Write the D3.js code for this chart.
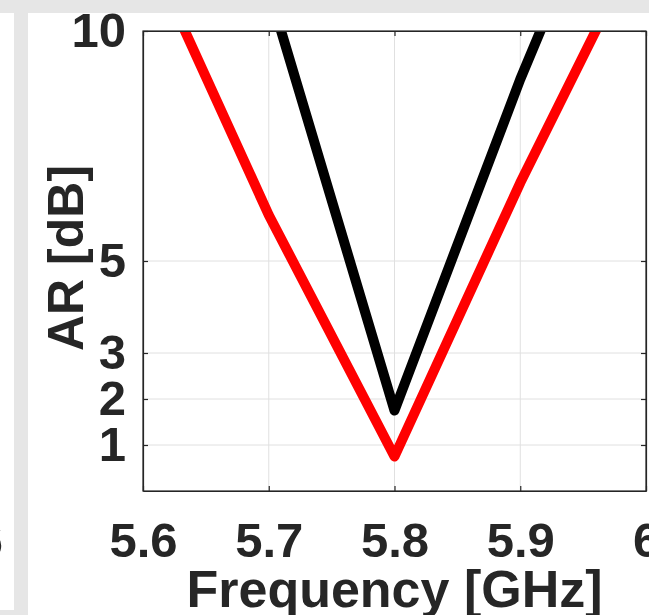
<!DOCTYPE html>
<html>
<head>
<meta charset="utf-8">
<script src="https://cdn.jsdelivr.net/npm/d3@7"></script>
<style>
  body { margin: 0; padding: 0; background: #e6e6e6; overflow: hidden; }
  svg { display: block; }
  .tick-label { font-family: "Liberation Sans", Arial, sans-serif; font-weight: bold; fill: #262626; }
</style>
</head>
<body>
<div id="chart"></div>
<script>
// AR vs frequency plot
(function () {
  ///////////////////////////////////////////////////////////// ! Data
  const freqRed = [5.6, 5.65, 5.7, 5.8, 5.9, 6.0];
  const arRed = [12.0, 9.0, 6.0, 0.75, 6.7, 12.2];

  const freqBlack = [5.7, 5.8, 5.9, 6.0];
  const arBlack = [10.9, 1.75, 8.95, 15.5];

  const xTicks = [5.6, 5.7, 5.8, 5.9, 6];
  const yTicks = [1, 2, 3, 5, 10];

  ///////////////////////////////////////////////////////////// ! Setup
  const fullWidth = 649;
  const fullHeight = 615;
  const plot = { left: 143, right: 646, top: 31, bottom: 491 };
  const textColor = "#262626";
  const fontFamily = '"Liberation Sans", Arial, sans-serif';

  const svg = d3
    .select("#chart")
    .append("svg")
    .attr("width", fullWidth)
    .attr("height", fullHeight);

  // Gray frame and white panels (left one is the neighbouring subplot)
  svg.append("rect").attr("width", fullWidth).attr("height", fullHeight).attr("fill", "#e6e6e6");
  svg.append("rect").attr("x", 0).attr("y", 13).attr("width", 14).attr("height", 597).attr("fill", "#ffffff");
  svg.append("rect").attr("x", 28).attr("y", 13).attr("width", fullWidth - 28).attr("height", fullHeight - 13).attr("fill", "#ffffff");

  // Leftover tick label of the neighbour panel, clipped at its edge
  svg.append("clipPath").attr("id", "leftPanel")
    .append("rect").attr("x", 0).attr("y", 13).attr("width", 14).attr("height", 597);
  svg.append("text")
    .attr("clip-path", "url(#leftPanel)")
    .attr("x", 3)
    .attr("y", 557)
    .attr("text-anchor", "end")
    .attr("font-family", fontFamily)
    .attr("font-weight", "bold")
    .attr("font-size", 49)
    .attr("fill", textColor)
    .text("6");

  ///////////////////////////////////////////////////////////// ! Scales
  const xScale = d3.scaleLinear().domain([5.6, 6]).range([plot.left, plot.right]);
  const yScale = d3.scaleLinear().domain([0, 10]).range([plot.bottom, plot.top]);

  ///////////////////////////////////////////////////////////// ! Grid
  const grid = svg.append("g").attr("stroke", "#e0e0e0").attr("stroke-width", 1);
  grid.selectAll(".gx")
    .data(xTicks.slice(1, -1))
    .enter()
    .append("line")
    .attr("x1", (d) => xScale(d))
    .attr("x2", (d) => xScale(d))
    .attr("y1", plot.top)
    .attr("y2", plot.bottom);
  grid.selectAll(".gy")
    .data(yTicks.slice(0, -1))
    .enter()
    .append("line")
    .attr("x1", plot.left)
    .attr("x2", plot.right)
    .attr("y1", (d) => yScale(d))
    .attr("y2", (d) => yScale(d));

  ///////////////////////////////////////////////////////////// ! Lines
  svg.append("clipPath").attr("id", "plotArea")
    .append("rect")
    .attr("x", plot.left)
    .attr("y", plot.top)
    .attr("width", plot.right - plot.left)
    .attr("height", plot.bottom - plot.top);

  const line = d3.line().x((d) => xScale(d[0])).y((d) => yScale(d[1]));

  const series = [
    { color: "#ff0000", pts: d3.zip(freqRed, arRed) },
    { color: "#000000", pts: d3.zip(freqBlack, arBlack) },
  ];

  svg.append("g")
    .attr("clip-path", "url(#plotArea)")
    .selectAll("path")
    .data(series)
    .enter()
    .append("path")
    .attr("d", (d) => line(d.pts))
    .attr("fill", "none")
    .attr("stroke", (d) => d.color)
    .attr("stroke-width", 10)
    .attr("stroke-linejoin", "round")
    .attr("stroke-linecap", "butt");

  ///////////////////////////////////////////////////////////// ! Axes
  function styleAxis(g) {
    g.select(".domain").attr("stroke", textColor).attr("stroke-width", 1.2);
    g.selectAll(".tick line").attr("stroke", textColor).attr("stroke-width", 1.2);
    g.selectAll(".tick text")
      .attr("class", "tick-label")
      .attr("font-family", fontFamily)
      .attr("font-weight", "bold")
      .attr("font-size", 49)
      .attr("fill", textColor);
  }

  svg.append("g")
    .attr("transform", `translate(0,${plot.bottom})`)
    .call(d3.axisBottom(xScale).tickValues(xTicks).tickFormat(d3.format("~g")).tickSizeInner(-5).tickSizeOuter(0).tickPadding(31))
    .call(styleAxis);

  svg.append("g")
    .attr("transform", `translate(0,${plot.top})`)
    .call(d3.axisTop(xScale).tickValues(xTicks).tickFormat("").tickSizeInner(-5).tickSizeOuter(0))
    .call(styleAxis);

  svg.append("g")
    .attr("transform", `translate(${plot.left},0)`)
    .call(d3.axisLeft(yScale).tickValues(yTicks).tickFormat(d3.format("d")).tickSizeInner(-5).tickSizeOuter(0).tickPadding(17))
    .call(styleAxis);

  svg.append("g")
    .attr("transform", `translate(${plot.right},0)`)
    .call(d3.axisRight(yScale).tickValues(yTicks).tickFormat("").tickSizeInner(-5).tickSizeOuter(0))
    .call(styleAxis);

  // Clean box outline
  svg.append("rect")
    .attr("x", plot.left)
    .attr("y", plot.top)
    .attr("width", plot.right - plot.left)
    .attr("height", plot.bottom - plot.top)
    .attr("fill", "none")
    .attr("stroke", textColor)
    .attr("stroke-width", 1.2);

  ///////////////////////////////////////////////////////////// ! Axis Labels
  svg.append("text")
    .attr("x", (plot.left + plot.right) / 2)
    .attr("y", 607)
    .attr("text-anchor", "middle")
    .attr("font-family", fontFamily)
    .attr("font-weight", "bold")
    .attr("font-size", 52)
    .attr("fill", textColor)
    .text("Frequency [GHz]");

  svg.append("text")
    .attr("transform", "translate(83,258) rotate(-90)")
    .attr("text-anchor", "middle")
    .attr("font-family", fontFamily)
    .attr("font-weight", "bold")
    .attr("font-size", 50)
    .attr("fill", textColor)
    .text("AR [dB]");
})();
</script>
</body>
</html>
